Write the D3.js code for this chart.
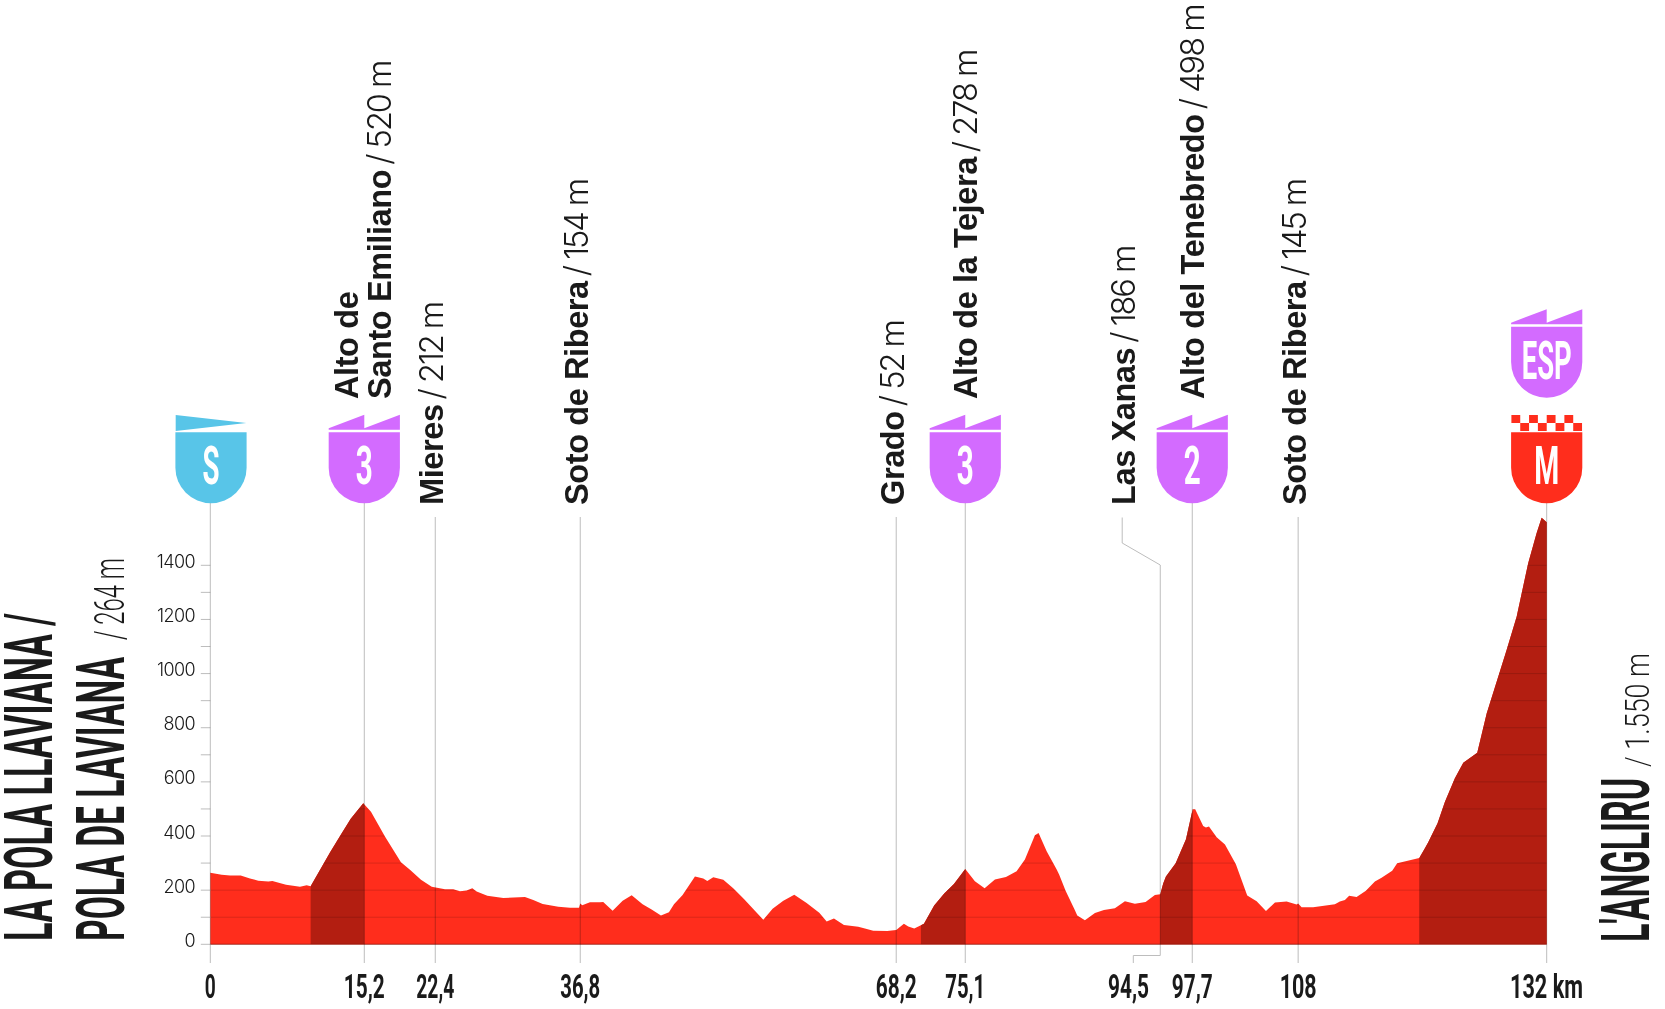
<!DOCTYPE html>
<html><head><meta charset="utf-8">
<script src="https://cdnjs.cloudflare.com/ajax/libs/d3/7.8.5/d3.min.js"></script>
<style>html,body{margin:0;padding:0;background:#fff;overflow:hidden}svg{display:block}</style>
</head><body><div id="c"></div>
<script>
const profileKm=[0,1.12,1.95,3,3.92,4.74,5.73,6.13,7.48,8.86,9.52,9.91,11.82,12.98,13.87,15.11,15.87,17.25,18.83,19.72,20.81,21.87,23.18,24,24.66,25.32,25.88,26.31,27.36,28.94,31.08,31.9,32.83,34.37,35.53,36.42,36.54,36.74,37.5,38.49,38.81,39.74,40.73,41.62,42.7,43.59,44.51,45.3,45.8,46.65,47.87,48.69,49.09,49.68,50.67,51.65,52.71,54.62,55.54,56.6,57.68,58.9,60.15,60.88,61.6,62.59,64,64.66,65.48,66.86,67.75,68.51,68.94,69.53,70.19,70.49,71.5,72.49,73.45,74.57,75.52,76.48,77.5,78.59,79.64,80.46,81.45,81.81,82.61,83.6,83.85,84.48,85.4,85.63,86.39,87.38,88.27,89.35,90.34,91.33,92.38,93.3,93.83,94.12,94.39,95.35,96.37,97.03,97.28,98.07,98.34,98.64,99.4,100.22,101.3,102.42,103.35,104.27,105.16,106.31,107.3,107.45,107.79,108.93,111.08,111.57,112.07,112.49,113.22,114.14,115.03,115.69,116.74,117.23,119.41,119.87,120.3,121.22,121.95,122.93,123.76,125.14,126.07,128.04,129.03,130.17,131,131.5,132];
const profileEle=[264,257,254,254,243,235,232,234,220,213,218,214,339,410,464,521,490,398,303,275,238,213,203,203,196,199,207,195,179,171,175,164,149,139,135,135,151,144,155,155,156,124,161,181,148,129,106,118,148,182,250,243,234,248,238,207,167,91,131,161,183,153,117,84,95,71,65,58,50,49,53,76,66,58,70,76,143,188,223,278,233,207,239,249,270,313,403,411,344,276,257,198,126,106,89,116,127,133,159,150,156,182,185,225,250,299,388,499,499,437,431,435,395,369,296,180,159,123,154,158,147,151,137,137,148,158,164,179,175,198,232,246,272,299,319,348,377,447,527,613,671,708,853,1087,1210,1408,1518,1576,1559];
const climbStarts=[9.91,70.19,93.83,119.41];
const climbEnds=[15.21,74.57,96.99,132];
const yTickValues=[0,200,400,600,800,1000,1200,1400];
const yMinorValues=[100,300,500,700,900,1100,1300];
const markerKm=[0,15.21,22.22,36.54,67.75,74.57,96.99,107.45,132];
const markerTall=[1,1,0,0,0,1,1,0,1];
const kmLabels=["0","15,2","22,4","36,8","68,2","75,1","97,7","108","132 km"];
const kmLabelWidths=[11,41,38,40,41,40,41,37,73];
const placeNames=["Mieres","Soto de Ribera","Grado","Las Xanas","Soto de Ribera"];
const placeHeights=["/ 212 m","/ 154 m","/ 52 m","/ 186 m","/ 145 m"];
const placeKm=[22.22,36.54,67.75,90.07,107.45];
const climbNames=[["Alto de","Santo Emiliano"],["Alto de la Tejera"],["Alto del Tenebredo"]];
const climbHeights=["/ 520 m","/ 278 m","/ 498 m"];
const climbKm=[15.21,74.57,96.99];
const climbCats=["3","3","2"];

const W=1665,H=1009,RED="#ff2d1c",DARK="#b31e11",PURPLE="#d36bff",BLUE="#58c5e8",INK="#1a1a1a",LINE="#bdbdbd";
const BOLD="'Liberation Sans',Arial,sans-serif",LIGHT="Inter,Roboto,sans-serif",COND="Roboto,'Liberation Sans',sans-serif";
const svg=d3.select("#c").append("svg").attr("width",W).attr("height",H);
const x=d3.scaleLinear().domain([0,132]).range([210.3,1546.7]);
const y=d3.scaleLinear().domain([0,1400]).range([944.3,565.3]);
const profile=profileKm.map((k,i)=>[k,profileEle[i]]);
const area=d3.area().x(d=>x(d[0])).y0(y(0)).y1(d=>y(d[1]));
const defs=svg.append("defs");
defs.append("clipPath").attr("id","pf").append("path").attr("d",area(profile));
const dc=defs.append("clipPath").attr("id","climbs");
climbStarts.forEach((s,i)=>dc.append("rect").attr("x",x(s)).attr("y",0).attr("width",x(climbEnds[i])-x(s)).attr("height",y(0)));

svg.append("path").attr("d",area(profile)).attr("fill",RED);
svg.append("path").attr("d",area(profile)).attr("fill",DARK).attr("clip-path","url(#climbs)");

const grid=svg.append("g").attr("clip-path","url(#pf)");
yTickValues.concat(yMinorValues).forEach(v=>{
  grid.append("line").attr("x1",x(0)).attr("x2",x(132)).attr("y1",y(v)).attr("y2",y(v)).attr("stroke","#000").attr("stroke-opacity",.14);
});
svg.append("line").attr("x1",x(0)).attr("x2",x(132)).attr("y1",y(0)).attr("y2",y(0)).attr("stroke","#8f170c").attr("stroke-opacity",.7);

yTickValues.concat(yMinorValues).forEach(v=>{
  svg.append("line").attr("x1",x(0)-9.5).attr("x2",x(0)).attr("y1",y(v)).attr("y2",y(v)).attr("stroke",LINE);
});
svg.selectAll(".yl").data(yTickValues).join("text").attr("x",195).attr("y",d=>y(d)+2.5)
  .attr("text-anchor","end").attr("font-family",LIGHT).attr("font-weight",300).attr("font-size",18).attr("letter-spacing",-.6).attr("fill",INK).text(d=>d);

markerKm.forEach((k,i)=>{
  svg.append("line").attr("x1",x(k)).attr("x2",x(k)).attr("y1",markerTall[i]?503:517).attr("y2",963)
    .attr("stroke",LINE).style("mix-blend-mode","multiply");
});
const lk=d3.line().x(d=>d[0]).y(d=>d[1]);
svg.append("path").attr("fill","none").attr("stroke",LINE).style("mix-blend-mode","multiply")
  .attr("d",lk([[x(placeKm[3]),517.5],[x(placeKm[3]),543],[x(93.83),565],[x(93.83),955.5],[1133.3,955.5],[1133.3,963]]));

function cond(str,px,py,w,cap,rot,fill,weight){
  return svg.append("text").attr("font-family",COND).attr("font-weight",weight||700).attr("font-size",cap/0.711).attr("fill",fill||INK)
    .attr("textLength",w).attr("lengthAdjust","spacingAndGlyphs")
    .attr("transform",`translate(${px},${py})`+(rot?" rotate(-90)":"")).text(str);
}
kmLabels.forEach((s,i)=>{
  const w=kmLabelWidths[i];
  cond(s,i===8?1510:x(markerKm[i])-w/2,998,w,23.5);
});
cond("94,5",1108,998,41,23.5);

cond("LA POLA LLAVIANA /",52,941,328,47,true);
cond("POLA DE LAVIANA",123.5,941,284,47,true);
cond("/ 264 m",123.5,640,82,30,true,INK,300);
cond("L'ANGLIRU",1649,942,164,47,true);
cond("/ 1.550 m",1649,767,114,23,true,INK,300);

function rotLabel(px,py,lines,h){
  const t=svg.append("text").attr("transform",`translate(${px},${py}) rotate(-90)`).attr("font-size",32.5).attr("fill",INK).attr("letter-spacing",-.4);
  t.append("tspan").attr("font-family",BOLD).attr("font-weight",700).text(lines);
  if(h) t.append("tspan").attr("font-family",LIGHT).attr("font-weight",300).attr("letter-spacing",-2).attr("dx",5).text(h);
}
placeNames.forEach((n,i)=>rotLabel(x(placeKm[i])+(i===3?12.5:8),505,n,placeHeights[i]));
rotLabel(x(climbKm[0])-6,399,climbNames[0][0]);
rotLabel(x(climbKm[0])+27,399,climbNames[0][1],climbHeights[0]);
rotLabel(x(climbKm[1])+12,399,climbNames[1][0],climbHeights[1]);
rotLabel(x(climbKm[2])+12,399,climbNames[2][0],climbHeights[2]);

function body(cx,top,color){
  const r=35.6,b=top+71;
  svg.append("path").attr("fill",color).attr("d",`M${cx-r},${top}H${cx+r}V${b-r}A${r},${r} 0 0 1 ${cx-r},${b-r}Z`);
}
function mountainFlag(cx,top,color){
  const r=35.6;
  svg.append("path").attr("fill",color).attr("d",`M${cx-r},${top-2.5}V${top-4}L${cx},${top-17.5}V${top-4}L${cx+r},${top-17.5}V${top-2.5}Z`);
}
function shieldLetter(s,cx,top,w){
  cond(s,cx-w/2,top+52,w,38,false,"#fff",700);
}
body(x(0)+.7,432.3,BLUE);
svg.append("path").attr("fill",BLUE).attr("d",`M${x(0)-34.6},415L${x(0)+36},423L${x(0)-34.6},431Z`);
shieldLetter("S",x(0)+.7,432.3,17);
climbKm.forEach((k,i)=>{
  body(x(k),432.3,PURPLE); mountainFlag(x(k),432.3,PURPLE); shieldLetter(climbCats[i],x(k),432.3,17);
});
body(x(132),326.7,PURPLE); mountainFlag(x(132),326.7,PURPLE); shieldLetter("ESP",x(132),326.7,50);
body(x(132),432.3,RED); shieldLetter("M",x(132),432.3,25);
d3.range(8).forEach(i=>{
  svg.append("rect").attr("x",x(132)-35.3+i*8.83).attr("y",i%2?423:415).attr("width",8.83).attr("height",8).attr("fill",RED);
});
</script></body></html>
